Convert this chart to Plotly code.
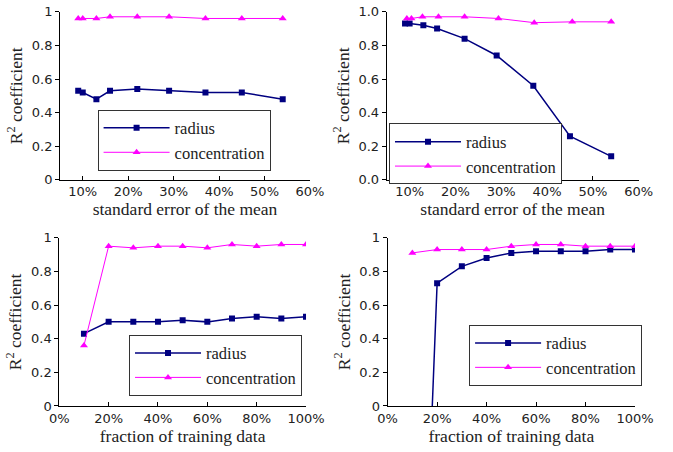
import plotly.graph_objects as go

# Panel 1 (top-left): standard error of the mean
sem_x = [9, 10, 13, 16, 22, 29, 37, 45, 54]
p1_radius = [0.53, 0.52, 0.48, 0.53, 0.54, 0.53, 0.52, 0.52, 0.48]
p1_conc = [0.96, 0.96, 0.96, 0.97, 0.97, 0.97, 0.96, 0.96, 0.96]

# Panel 2 (top-right)
p2_radius_x = [9, 10, 13, 16, 22, 29, 37, 45, 54]
p2_radius = [0.93, 0.93, 0.92, 0.90, 0.84, 0.74, 0.56, 0.26, 0.14]
p2_conc_x = [9.4, 10.4, 12.8, 16.3, 22, 29.4, 37.2, 45.5, 54]
p2_conc = [0.96, 0.96, 0.97, 0.97, 0.97, 0.96, 0.935, 0.94, 0.94]

# Panel 3 (bottom-left): fraction of training data
frac_x = [10, 20, 30, 40, 50, 60, 70, 80, 90, 100]
p3_radius = [0.43, 0.50, 0.50, 0.50, 0.51, 0.50, 0.52, 0.53, 0.52, 0.53]
p3_conc = [0.36, 0.95, 0.94, 0.95, 0.95, 0.94, 0.96, 0.95, 0.96, 0.96]

# Panel 4 (bottom-right)
p4_radius = [-3.0, 0.73, 0.83, 0.88, 0.91, 0.92, 0.92, 0.92, 0.93, 0.93]
p4_conc = [0.91, 0.93, 0.93, 0.93, 0.95, 0.96, 0.96, 0.95, 0.95, 0.95]

NAVY = "#000080"
MAG = "#ff00ff"
SANS = "DejaVu Sans"
SERIF = "Liberation Serif"

panels = [
    dict(rx=sem_x, ry=p1_radius, cx=sem_x, cy=p1_conc, xr=[5, 60], dt=10,
         xt="standard error of the mean", yfmt="", dom_x=[0.0892, 0.4606], dom_y=[0.602, 0.974],
         leg=(0.145, 0.690)),
    dict(rx=p2_radius_x, ry=p2_radius, cx=p2_conc_x, cy=p2_conc, xr=[5, 60], dt=10,
         xt="standard error of the mean", yfmt=".1f", dom_x=[0.5746, 0.949], dom_y=[0.602, 0.974],
         leg=(0.578, 0.6595)),
    dict(rx=frac_x, ry=p3_radius, cx=frac_x, cy=p3_conc, xr=[0, 100], dt=20,
         xt="fraction of training data", yfmt="", dom_x=[0.0881, 0.4547], dom_y=[0.1018, 0.474],
         leg=(0.1917, 0.192)),
    dict(rx=frac_x, ry=p4_radius, cx=frac_x, cy=p4_conc, xr=[0, 100], dt=20,
         xt="fraction of training data", yfmt="", dom_x=[0.576, 0.9435], dom_y=[0.1018, 0.474],
         leg=(0.697, 0.2142)),
]

fig = go.Figure()
layout = {}
for i, p in enumerate(panels, start=1):
    sfx = "" if i == 1 else str(i)
    lg = "legend" if i == 1 else f"legend{i}"
    fig.add_trace(go.Scatter(
        x=p["rx"], y=p["ry"], mode="lines+markers", name="radius",
        xaxis=f"x{sfx}", yaxis=f"y{sfx}", legend=lg,
        line=dict(color=NAVY, width=1.5),
        marker=dict(symbol="square", size=6, color=NAVY)))
    fig.add_trace(go.Scatter(
        x=p["cx"], y=p["cy"], mode="lines+markers", name="concentration",
        xaxis=f"x{sfx}", yaxis=f"y{sfx}", legend=lg,
        line=dict(color=MAG, width=1),
        marker=dict(symbol="triangle-up", size=7, color=MAG)))
    layout[f"xaxis{sfx}"] = dict(
        domain=p["dom_x"], anchor=f"y{sfx}", range=p["xr"], dtick=p["dt"], tick0=0,
        ticksuffix="%", showgrid=False, zeroline=False, showline=True, automargin=False,
        linecolor="black", linewidth=1, ticks="inside", ticklen=4, tickcolor="black",
        tickfont=dict(family=SANS, size=13, color="#222"),
        title=dict(text=p["xt"], font=dict(family=SERIF, size=17.5, color="#222"), standoff=4))
    layout[f"yaxis{sfx}"] = dict(
        domain=p["dom_y"], anchor=f"x{sfx}", range=[0, 1], dtick=0.2, tick0=0,
        tickformat=p["yfmt"], showgrid=False, zeroline=False, showline=True, automargin=False,
        linecolor="black", linewidth=1, ticks="outside", ticklen=4, tickcolor="black",
        tickfont=dict(family=SANS, size=13, color="#222"),
        title=dict(text="R<sup>2</sup> coefficient", font=dict(family=SERIF, size=17.5, color="#222"),
                   standoff=4))
    layout[lg] = dict(
        x=p["leg"][0], y=p["leg"][1], xanchor="left", yanchor="middle",
        bgcolor="white", bordercolor="#333", borderwidth=1,
        font=dict(family=SERIF, size=16.5, color="#222"),
        tracegroupgap=0, itemwidth=66)

fig.update_layout(
    width=673, height=452, margin=dict(l=0, r=0, t=0, b=0, autoexpand=False),
    paper_bgcolor="white", plot_bgcolor="white", showlegend=True,
    **layout)

fig.write_html("out.html", config={"displayModeBar": False},
               post_script="document.body.style.margin='0px';")
